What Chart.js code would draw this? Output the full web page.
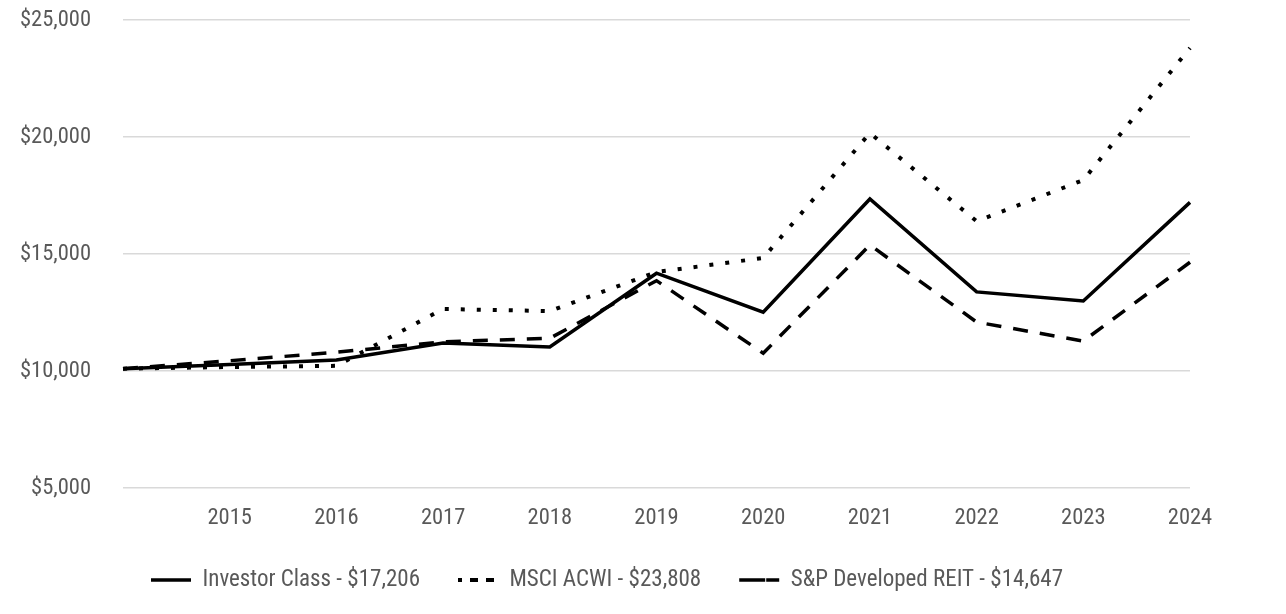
<!DOCTYPE html>
<html>
<head>
<meta charset="utf-8">
<script src="https://cdn.jsdelivr.net/npm/chart.js@4.4.1/dist/chart.umd.min.js"></script>
<style>
  html, body { margin: 0; padding: 0; background: #ffffff; }
  #wrap { width: 1286px; height: 614px; position: relative; }
</style>
</head>
<body>
<div id="wrap"><canvas id="c"></canvas></div>
<script>
const categories = ['', '2015', '2016', '2017', '2018', '2019', '2020', '2021', '2022', '2023', '2024'];
const investorClass = [10100, 10280, 10470, 11200, 11030, 14180, 12510, 17350, 13380, 12990, 17206];
const msciAcwi      = [10100, 10170, 10220, 12650, 12560, 14230, 14830, 20170, 16400, 18160, 23808];
const spReit        = [10100, 10440, 10800, 11250, 11400, 13860, 10760, 15385, 12090, 11280, 14647];
const seriesNames = ['Investor Class - $17,206', 'MSCI ACWI - $23,808', 'S&P Developed REIT - $14,647'];
const yTicks = [5000, 10000, 15000, 20000, 25000];

const FONT = "'Liberation Sans Narrow', 'Arial Narrow', 'Roboto Condensed', 'Liberation Sans', sans-serif";
const TEXT = '#595959';
const TICK_FS = 22.5;
const LEG_FS = 23;
const LEG_PAD = 38;
const AREA_BOTTOM = 488;
const LEG_Y = 580;                               // legend text centre
const LEG_TOP = LEG_Y - LEG_PAD - LEG_FS / 2;    // legend box top
const LEG_H = LEG_FS + LEG_PAD + 10;             // Chart.js legend box height

new Chart(document.getElementById('c'), {
  type: 'line',
  data: {
    labels: categories,
    datasets: [
      { label: seriesNames[0], data: investorClass, borderColor: '#000', backgroundColor: 'rgba(0,0,0,0)',
        borderWidth: 3.5, pointRadius: 0, tension: 0, borderDash: [] },
      { label: seriesNames[1], data: msciAcwi, borderColor: '#000', backgroundColor: 'rgba(0,0,0,0)',
        borderWidth: 4, pointRadius: 0, tension: 0, borderDash: [4, 12] },
      { label: seriesNames[2], data: spReit, borderColor: '#000', backgroundColor: 'rgba(0,0,0,0)',
        borderWidth: 3.5, pointRadius: 0, tension: 0, borderDash: [15, 12] }
    ]
  },
  options: {
    responsive: true,
    maintainAspectRatio: false,
    animation: false,
    layout: { padding: { top: 20, right: 72, bottom: 614 - LEG_TOP - LEG_H, left: 0 } },
    plugins: {
      tooltip: { enabled: false },
      legend: {
        position: 'bottom',
        labels: {
          color: TEXT,
          font: { family: FONT, size: LEG_FS },
          boxWidth: 40,
          boxHeight: 0,
          padding: LEG_PAD
        }
      }
    },
    scales: {
      x: {
        grid: { display: false, drawTicks: false },
        border: { display: false },
        ticks: { color: TEXT, font: { family: FONT, size: TICK_FS }, padding: 16.5, maxRotation: 0, autoSkip: false },
        afterFit: (s) => { s.height = LEG_TOP - AREA_BOTTOM; s.paddingLeft = 0; s.paddingRight = 0; }
      },
      y: {
        min: yTicks[0],
        max: yTicks[yTicks.length - 1],
        afterBuildTicks: (s) => { s.ticks = yTicks.map(v => ({ value: v })); },
        grid: { color: '#d9d9d9', lineWidth: 1.5, drawTicks: false },
        border: { display: false },
        ticks: {
          color: TEXT, font: { family: FONT, size: TICK_FS }, padding: 32,
          callback: (v) => '$' + Number(v).toLocaleString('en-US')
        },
        afterFit: (s) => { s.width = 123; s.paddingTop = 0; s.paddingBottom = 0; }
      },
      yRight: {
        position: 'right',
        min: yTicks[0],
        max: yTicks[yTicks.length - 1],
        grid: { display: false, drawTicks: false },
        border: { display: false },
        ticks: { display: false },
        afterFit: (s) => { s.width = 24; s.paddingTop = 0; s.paddingBottom = 0; }
      }
    }
  }
});
</script>
</body>
</html>
